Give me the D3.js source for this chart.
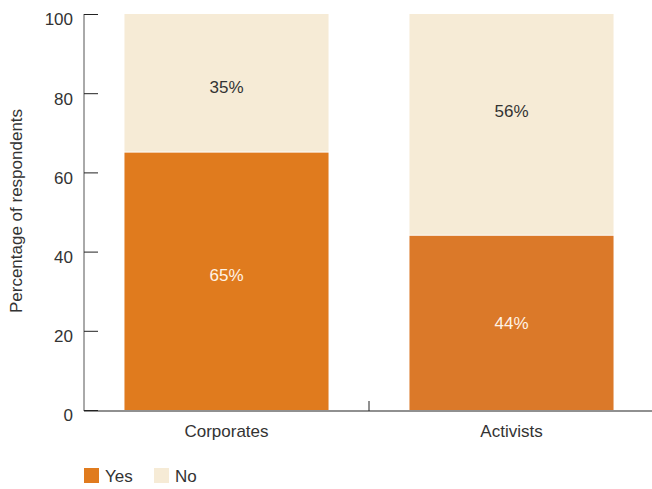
<!DOCTYPE html>
<html>
<head>
<meta charset="utf-8">
<script src="https://cdn.jsdelivr.net/npm/d3@7"></script>
<style>
  html, body { margin: 0; padding: 0; background: #fff; }
  svg { display: block; font-family: "Liberation Sans", Arial, sans-serif; }
</style>
</head>
<body>
<svg id="chart" width="652" height="489"></svg>
<script>
// Survey answers by respondent group (percent)
const categories = ["Corporates", "Activists"];
const yesValues = [65, 44];
const noValues = [35, 56];
const seriesNames = ["Yes", "No"];
const yTicks = [0, 20, 40, 60, 80, 100];

const yesFill = { Corporates: "#E07B1E", Activists: "#DB7929" };
const noFill = "#F6EBD6";
const textColor = "#333333";
const fontSize = 17;
// small vertical nudges for the in-bar value labels
const yesLabelNudge = [-6, 0];
const noLabelNudge = [4, -14];

const svg = d3.select("#chart");
const plotLeft = 84, plotRight = 654, plotTop = 14, plotBottom = 410;

const x = d3.scaleBand()
  .domain(categories)
  .range([plotLeft, plotRight])
  .paddingInner(0.284)
  .paddingOuter(0.142);

const y = d3.scaleLinear().domain([0, 100]).range([plotBottom, plotTop]);

const rows = categories.map((c, i) => ({ cat: c, yes: yesValues[i], no: noValues[i], i }));

// stacked segments
const g = svg.append("g");
rows.forEach(r => {
  const x0 = x(r.cat), w = x.bandwidth();
  g.append("rect")
    .attr("x", x0).attr("width", w)
    .attr("y", y(r.yes)).attr("height", y(0) - y(r.yes))
    .attr("fill", yesFill[r.cat]);
  g.append("rect")
    .attr("x", x0).attr("width", w)
    .attr("y", y(r.yes + r.no)).attr("height", y(r.yes) - y(r.yes + r.no) - 1)
    .attr("fill", noFill);
  g.append("text")
    .attr("x", x0 + w / 2).attr("y", y(r.yes / 2) + yesLabelNudge[r.i])
    .attr("dy", "0.35em")
    .attr("text-anchor", "middle").attr("font-size", fontSize)
    .attr("fill", "#FFF3E6")
    .text(r.yes + "%");
  g.append("text")
    .attr("x", x0 + w / 2).attr("y", y(r.yes + r.no / 2) + noLabelNudge[r.i])
    .attr("dy", "0.35em")
    .attr("text-anchor", "middle").attr("font-size", fontSize)
    .attr("fill", textColor)
    .text(r.no + "%");
});

// y axis: ticks drawn inward
const yAxis = svg.append("g")
  .attr("transform", `translate(${plotLeft},0)`)
  .call(d3.axisRight(y).tickValues(yTicks).tickSize(14).tickFormat(d3.format("d")));
yAxis.select(".domain").attr("stroke", "#555").attr("d", `M0,${plotTop}V${plotBottom + 1}`);
yAxis.selectAll(".tick line").attr("stroke", "#222");
yAxis.selectAll(".tick text")
  .attr("x", -11).attr("y", 5).attr("text-anchor", "end").attr("dy", "0.35em")
  .attr("font-size", fontSize).attr("fill", textColor)
  .attr("font-family", "Liberation Sans, Arial, sans-serif");

// x axis baseline with tick at band boundary
const xAxis = svg.append("g").attr("transform", `translate(0,${plotBottom + 1})`);
xAxis.append("line")
  .attr("x1", plotLeft).attr("x2", 652)
  .attr("stroke", "#222").attr("stroke-width", 1.2);
const boundary = x(categories[1]) - x.step() * x.paddingInner() / 2;
xAxis.append("line")
  .attr("x1", boundary).attr("x2", boundary)
  .attr("y1", 0).attr("y2", -10)
  .attr("stroke", "#222");
xAxis.selectAll("text.cat")
  .data(categories).join("text")
  .attr("class", "cat")
  .attr("x", d => x(d) + x.bandwidth() / 2)
  .attr("y", 26)
  .attr("text-anchor", "middle").attr("font-size", fontSize).attr("fill", textColor)
  .text(d => d);

// y axis title
svg.append("text")
  .attr("transform", `translate(22,211) rotate(-90)`)
  .attr("text-anchor", "middle").attr("font-size", fontSize).attr("fill", textColor)
  .text("Percentage of respondents");

// legend
const legendFills = [yesFill.Corporates, noFill];
const legendX = [84, 154];
const legend = svg.append("g");
seriesNames.forEach((s, i) => {
  legend.append("rect")
    .attr("x", legendX[i]).attr("y", 468).attr("width", 15).attr("height", 15)
    .attr("fill", legendFills[i]);
  legend.append("text")
    .attr("x", legendX[i] + 21).attr("y", 482)
    .attr("font-size", fontSize).attr("fill", textColor)
    .text(s);
});
</script>
</body>
</html>
